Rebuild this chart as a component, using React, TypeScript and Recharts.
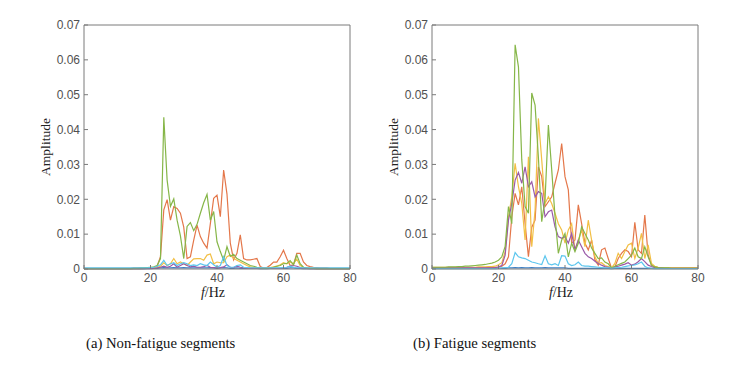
import React from 'react'
import { LineChart, Line, XAxis, YAxis, Label } from 'recharts'

// frequency bins (Hz)
const freq = [
  0, 1, 2, 3, 4, 5, 6, 7, 8, 9,
  10, 11, 12, 13, 14, 15, 16, 17, 18, 19,
  20, 21, 22, 23, 24, 25, 26, 27, 28, 29,
  30, 31, 32, 33, 34, 35, 36, 37, 38, 39,
  40, 41, 42, 43, 44, 45, 46, 47, 48, 49,
  50, 51, 52, 53, 54, 55, 56, 57, 58, 59,
  60, 61, 62, 63, 64, 65, 66, 67, 68, 69,
  70, 71, 72, 73, 74, 75, 76, 77, 78, 79, 80,
]

const xTicks = [0, 20, 40, 60, 80]
const yTicks = [0, 0.01, 0.02, 0.03, 0.04, 0.05, 0.06, 0.07]

// (a) non-fatigue segments
const nfBlue = [
  0.0001, 0.0001, 0.0001, 0.0001, 0.0001, 0.0001, 0.0001, 0.0001, 0.0001, 0.0001,
  0.0001, 0.0001, 0.0001, 0.0001, 0.0001, 0.0001, 0.0001, 0.0001, 0.0001, 0.0002,
  0.0002, 0.0002, 0.0002, 0.0003, 0.0004, 0.0003, 0.0003, 0.0004, 0.0003, 0.0003,
  0.0004, 0.0003, 0.0003, 0.0003, 0.0003, 0.0003, 0.0003, 0.0003, 0.0004, 0.0003,
  0.0002, 0.0003, 0.0004, 0.0003, 0.0002, 0.0002, 0.0003, 0.0002, 0.0002, 0.0002,
  0.0002, 0.0002, 0.0002, 0.0001, 0.0001, 0.0001, 0.0002, 0.0002, 0.0002, 0.0002,
  0.0002, 0.0002, 0.0003, 0.0003, 0.0002, 0.0002, 0.0001, 0.0001, 0.0001, 0.0001,
  0.0001, 0.0001, 0.0001, 0.0001, 0.0001, 0.0001, 0.0001, 0.0001, 0.0001, 0.0001, 0.0001,
]
const nfOrange = [
  0.0002, 0.0002, 0.0002, 0.0002, 0.0002, 0.0002, 0.0002, 0.0002, 0.0002, 0.0002,
  0.0002, 0.0002, 0.0002, 0.0002, 0.0002, 0.0003, 0.0003, 0.0003, 0.0003, 0.0004,
  0.0004, 0.0005, 0.0008, 0.0035, 0.017, 0.0199, 0.014, 0.0179, 0.0174, 0.016,
  0.012, 0.003, 0.0035, 0.0083, 0.0126, 0.0093, 0.0074, 0.006, 0.013, 0.0203,
  0.0212, 0.015, 0.0284, 0.0215, 0.0074, 0.0026, 0.0045, 0.0098, 0.003, 0.0026,
  0.0026, 0.0028, 0.003, 0.0007, 0.0003, 0.0004, 0.0011, 0.002, 0.002, 0.0035,
  0.0054, 0.003, 0.001, 0.0012, 0.0045, 0.0045, 0.002, 0.001, 0.0007, 0.0005,
  0.0004, 0.0003, 0.0003, 0.0003, 0.0002, 0.0002, 0.0002, 0.0002, 0.0002, 0.0002, 0.0002,
]
const nfYellow = [
  0.0001, 0.0001, 0.0001, 0.0001, 0.0001, 0.0001, 0.0001, 0.0001, 0.0001, 0.0001,
  0.0001, 0.0001, 0.0001, 0.0001, 0.0001, 0.0001, 0.0001, 0.0001, 0.0002, 0.0002,
  0.0002, 0.0003, 0.0005, 0.0008, 0.0018, 0.001, 0.0015, 0.003, 0.0015, 0.002,
  0.0015, 0.001, 0.002, 0.0029, 0.003, 0.003, 0.0025, 0.004, 0.0043, 0.0015,
  0.002, 0.0018, 0.0018, 0.0035, 0.004, 0.003, 0.0025, 0.002, 0.0015, 0.001,
  0.0006, 0.0004, 0.0003, 0.0002, 0.0002, 0.0003, 0.0004, 0.0006, 0.0008, 0.0012,
  0.0018, 0.0015, 0.002, 0.0015, 0.0028, 0.001, 0.0005, 0.0003, 0.0002, 0.0002,
  0.0001, 0.0001, 0.0001, 0.0001, 0.0001, 0.0001, 0.0001, 0.0001, 0.0001, 0.0001, 0.0001,
]
const nfPurple = [
  0.0001, 0.0001, 0.0001, 0.0001, 0.0001, 0.0001, 0.0001, 0.0001, 0.0001, 0.0001,
  0.0001, 0.0001, 0.0001, 0.0001, 0.0001, 0.0001, 0.0001, 0.0001, 0.0001, 0.0001,
  0.0001, 0.0002, 0.0003, 0.0005, 0.0008, 0.0005, 0.0008, 0.0015, 0.0005, 0.001,
  0.0015, 0.001, 0.0006, 0.0008, 0.0005, 0.0005, 0.0007, 0.001, 0.0005, 0.0004,
  0.0003, 0.0004, 0.0006, 0.0012, 0.0005, 0.0004, 0.0008, 0.0005, 0.0003, 0.0002,
  0.0002, 0.0002, 0.0002, 0.0002, 0.0002, 0.0002, 0.0002, 0.0002, 0.0002, 0.0002,
  0.0003, 0.0005, 0.0008, 0.001, 0.0008, 0.0004, 0.0002, 0.0002, 0.0001, 0.0001,
  0.0001, 0.0001, 0.0001, 0.0001, 0.0001, 0.0001, 0.0001, 0.0001, 0.0001, 0.0001, 0.0001,
]
const nfGreen = [
  0.0001, 0.0001, 0.0001, 0.0001, 0.0001, 0.0001, 0.0001, 0.0001, 0.0001, 0.0001,
  0.0001, 0.0001, 0.0001, 0.0001, 0.0001, 0.0002, 0.0002, 0.0003, 0.0003, 0.0004,
  0.0005, 0.0006, 0.001, 0.003, 0.0435, 0.0255, 0.018, 0.0201, 0.014, 0.0095,
  0.003, 0.0122, 0.0133, 0.011, 0.0128, 0.016, 0.019, 0.0214, 0.014, 0.0165,
  0.0078, 0.005, 0.0025, 0.0064, 0.0036, 0.0042, 0.003, 0.0025, 0.002, 0.0015,
  0.001, 0.0008, 0.0005, 0.0003, 0.0002, 0.0002, 0.0003, 0.0005, 0.0008, 0.001,
  0.0015, 0.0016, 0.0024, 0.0012, 0.004, 0.0015, 0.0005, 0.0003, 0.0002, 0.0002,
  0.0001, 0.0001, 0.0001, 0.0001, 0.0001, 0.0001, 0.0001, 0.0001, 0.0001, 0.0001, 0.0001,
]
const nfCyan = [
  0.0003, 0.0003, 0.0003, 0.0003, 0.0003, 0.0003, 0.0003, 0.0003, 0.0003, 0.0003,
  0.0003, 0.0003, 0.0003, 0.0003, 0.0003, 0.0003, 0.0003, 0.0003, 0.0003, 0.0003,
  0.0004, 0.0005, 0.0008, 0.0012, 0.0025, 0.001, 0.0015, 0.0018, 0.001, 0.0015,
  0.0018, 0.0015, 0.001, 0.0012, 0.001, 0.0015, 0.0012, 0.001, 0.002, 0.0012,
  0.0005, 0.001, 0.0035, 0.001, 0.0005, 0.0005, 0.001, 0.0012, 0.0005, 0.0004,
  0.0003, 0.0003, 0.0003, 0.0003, 0.0003, 0.0003, 0.0003, 0.0003, 0.0003, 0.0003,
  0.0004, 0.0005, 0.0008, 0.0005, 0.0003, 0.0003, 0.0003, 0.0003, 0.0003, 0.0003,
  0.0003, 0.0003, 0.0003, 0.0003, 0.0003, 0.0003, 0.0003, 0.0003, 0.0003, 0.0003, 0.0003,
]

// (b) fatigue segments
const fBlue = [
  0.0002, 0.0002, 0.0002, 0.0002, 0.0002, 0.0002, 0.0002, 0.0002, 0.0002, 0.0002,
  0.0002, 0.0002, 0.0002, 0.0002, 0.0002, 0.0002, 0.0002, 0.0002, 0.0002, 0.0002,
  0.0002, 0.0002, 0.0002, 0.0003, 0.0003, 0.0004, 0.0003, 0.0004, 0.0003, 0.0003,
  0.0004, 0.0003, 0.0003, 0.0003, 0.0004, 0.0003, 0.0003, 0.0003, 0.0003, 0.0003,
  0.0003, 0.0002, 0.0002, 0.0002, 0.0002, 0.0002, 0.0002, 0.0002, 0.0002, 0.0002,
  0.0002, 0.0002, 0.0002, 0.0002, 0.0001, 0.0002, 0.0002, 0.0002, 0.0002, 0.0002,
  0.0002, 0.0002, 0.0002, 0.0002, 0.0002, 0.0002, 0.0002, 0.0002, 0.0002, 0.0002,
  0.0002, 0.0002, 0.0002, 0.0002, 0.0002, 0.0002, 0.0002, 0.0002, 0.0002, 0.0002, 0.0002,
]
const fOrange = [
  0.0003, 0.0003, 0.0003, 0.0003, 0.0003, 0.0003, 0.0003, 0.0003, 0.0003, 0.0003,
  0.0003, 0.0003, 0.0003, 0.0003, 0.0003, 0.0003, 0.0003, 0.0004, 0.0004, 0.0004,
  0.0005, 0.0008, 0.0015, 0.0035, 0.015, 0.0217, 0.0184, 0.0236, 0.013, 0.0035,
  0.012, 0.014, 0.0293, 0.0265, 0.0179, 0.0193, 0.0207, 0.0246, 0.0284, 0.036,
  0.0265, 0.0227, 0.0074, 0.0083, 0.0184, 0.013, 0.0074, 0.0055, 0.0083, 0.0026,
  0.0011, 0.0055, 0.006, 0.003, 0.0002, 0.0006, 0.003, 0.0045, 0.0055, 0.005,
  0.0035, 0.0134, 0.0055, 0.0045, 0.0155, 0.004, 0.0011, 0.0006, 0.0004, 0.0003,
  0.0003, 0.0003, 0.0003, 0.0003, 0.0003, 0.0003, 0.0003, 0.0003, 0.0003, 0.0003, 0.0003,
]
const fYellow = [
  0.0005, 0.0005, 0.0005, 0.0005, 0.0005, 0.0005, 0.0005, 0.0005, 0.0005, 0.0005,
  0.0005, 0.0005, 0.0005, 0.0005, 0.0006, 0.0006, 0.0006, 0.0007, 0.0007, 0.0008,
  0.0012, 0.0018, 0.005, 0.015, 0.0207, 0.0303, 0.0236, 0.0188, 0.0083, 0.0322,
  0.0064, 0.0169, 0.0432, 0.0313, 0.0188, 0.0207, 0.0188, 0.016, 0.013, 0.0112,
  0.0074, 0.0112, 0.013, 0.0055, 0.0083, 0.0112, 0.0064, 0.014, 0.0083, 0.0035,
  0.0016, 0.0018, 0.001, 0.0007, 0.0003, 0.0016, 0.0045, 0.003, 0.005, 0.0069,
  0.0074, 0.003, 0.006, 0.0102, 0.003, 0.0069, 0.0016, 0.0008, 0.0005, 0.0004,
  0.0004, 0.0004, 0.0004, 0.0004, 0.0004, 0.0004, 0.0004, 0.0004, 0.0004, 0.0004, 0.0004,
]
const fPurple = [
  0.0003, 0.0003, 0.0003, 0.0003, 0.0003, 0.0003, 0.0003, 0.0003, 0.0003, 0.0003,
  0.0003, 0.0003, 0.0003, 0.0003, 0.0003, 0.0003, 0.0003, 0.0003, 0.0003, 0.0004,
  0.0006, 0.001, 0.004, 0.014, 0.0188, 0.0255, 0.0277, 0.0246, 0.0293, 0.0236,
  0.025, 0.0207, 0.0222, 0.0217, 0.015, 0.0164, 0.0169, 0.0121, 0.0093, 0.0088,
  0.0093, 0.0074, 0.0102, 0.0055, 0.0083, 0.0064, 0.0045, 0.0035, 0.003, 0.0022,
  0.0016, 0.0011, 0.0007, 0.0005, 0.0002, 0.0006, 0.0008, 0.0011, 0.0014, 0.0018,
  0.0011, 0.0014, 0.0021, 0.003, 0.0021, 0.0011, 0.0007, 0.0004, 0.0003, 0.0003,
  0.0002, 0.0002, 0.0002, 0.0002, 0.0002, 0.0002, 0.0002, 0.0002, 0.0002, 0.0002, 0.0002,
]
const fGreen = [
  0.0005, 0.0005, 0.0005, 0.0005, 0.0005, 0.0006, 0.0006, 0.0006, 0.0007, 0.0007,
  0.0008, 0.0008, 0.0009, 0.001, 0.0011, 0.0012, 0.0013, 0.0015, 0.0017, 0.002,
  0.0025, 0.0035, 0.0065, 0.0179, 0.013, 0.0643, 0.058, 0.0313, 0.0179, 0.016,
  0.0505, 0.047, 0.032, 0.0136, 0.02, 0.0413, 0.0285, 0.015, 0.0045, 0.0083,
  0.0102, 0.0035, 0.0074, 0.005, 0.0074, 0.0121, 0.0102, 0.0083, 0.006, 0.0045,
  0.003, 0.0032, 0.002, 0.0015, 0.0003, 0.0008, 0.0012, 0.0016, 0.002, 0.003,
  0.004, 0.006, 0.0035, 0.003, 0.0064, 0.0035, 0.0011, 0.0006, 0.0004, 0.0003,
  0.0003, 0.0003, 0.0002, 0.0002, 0.0002, 0.0002, 0.0002, 0.0002, 0.0002, 0.0002, 0.0002,
]
const fCyan = [
  0.0001, 0.0001, 0.0001, 0.0001, 0.0001, 0.0001, 0.0001, 0.0001, 0.0001, 0.0001,
  0.0001, 0.0001, 0.0001, 0.0001, 0.0001, 0.0001, 0.0001, 0.0001, 0.0001, 0.0001,
  0.0002, 0.0003, 0.0004, 0.0005, 0.0015, 0.0047, 0.0035, 0.0032, 0.003, 0.0025,
  0.002, 0.0018, 0.0015, 0.0013, 0.0038, 0.0015, 0.0012, 0.0015, 0.001, 0.0038,
  0.0037, 0.0015, 0.001, 0.0012, 0.002, 0.001, 0.0008, 0.0008, 0.0007, 0.0006,
  0.0005, 0.0004, 0.0003, 0.0003, 0.0002, 0.0003, 0.0004, 0.0005, 0.0007, 0.0009,
  0.001, 0.0012, 0.0015, 0.002, 0.0008, 0.0003, 0.0002, 0.0001, 0.0001, 0.0001,
  0.0001, 0.0001, 0.0001, 0.0001, 0.0001, 0.0001, 0.0001, 0.0001, 0.0001, 0.0001, 0.0001,
]

const series = [
  { key: 'blue', color: '#3d7fc4' },
  { key: 'orange', color: '#e4774a' },
  { key: 'yellow', color: '#f2bf45' },
  { key: 'purple', color: '#9a5aa8' },
  { key: 'green', color: '#86b648' },
  { key: 'cyan', color: '#5cc6ee' },
]

const buildRows = (vals: Record<string, number[]>) =>
  freq.map((f, i) => {
    const row: Record<string, number> = { f }
    for (const s of series) row[s.key] = vals[s.key][i]
    return row
  })

const nonFatigueData = buildRows({
  blue: nfBlue, orange: nfOrange, yellow: nfYellow, purple: nfPurple, green: nfGreen, cyan: nfCyan,
})
const fatigueData = buildRows({
  blue: fBlue, orange: fOrange, yellow: fYellow, purple: fPurple, green: fGreen, cyan: fCyan,
})

const axisColor = '#7a7a7a'
const tickFont = { fontSize: 12, fill: '#505050', fontFamily: '"Liberation Sans", Arial, sans-serif' }
const serif = '"Liberation Serif", "Times New Roman", serif'

const renderYLabel = (props: any) => {
  const vb = props.viewBox
  const cx = vb.x + vb.width - 39
  const cy = vb.y + vb.height / 2
  return (
    <text x={cx} y={cy} transform={`rotate(-90 ${cx} ${cy})`} textAnchor="middle"
      dominantBaseline="central" fontFamily={serif} fontSize={13.5} fill="#222">
      Amplitude
    </text>
  )
}

const renderXLabel = (props: any) => {
  const vb = props.viewBox
  return (
    <text x={vb.x + vb.width / 2 - 4} y={vb.y + 28} textAnchor="middle"
      fontFamily={serif} fontSize={14} fill="#222">
      <tspan fontStyle="italic">f</tspan>/Hz
    </text>
  )
}

function Panel({ data, left }: { data: Record<string, number>[]; left: number }) {
  return (
    <div style={{ position: 'absolute', left, top: 0 }}>
      <LineChart width={365} height={310} data={data}
        margin={{ top: 24, right: 14, left: 0, bottom: 11 }}>
        <XAxis xAxisId="b" dataKey="f" type="number" domain={[0, 80]} ticks={xTicks}
          stroke={axisColor} tickSize={-4} tickMargin={8} tick={tickFont} height={30}>
          <Label content={renderXLabel} />
        </XAxis>
        <XAxis xAxisId="t" orientation="top" dataKey="f" type="number" domain={[0, 80]}
          ticks={xTicks} stroke={axisColor} tickSize={-4} tick={false} height={1} />
        <YAxis yAxisId="l" type="number" domain={[0, 0.07]} ticks={yTicks}
          stroke={axisColor} tickSize={-4} tickMargin={8} tick={tickFont} width={84}
          tickFormatter={(v: number) => (v === 0 ? '0' : v.toFixed(2))}>
          <Label content={renderYLabel} />
        </YAxis>
        <YAxis yAxisId="r" orientation="right" type="number" domain={[0, 0.07]} ticks={yTicks}
          stroke={axisColor} tickSize={-4} tick={false} width={1} />
        {series.map((s) => (
          <Line key={s.key} xAxisId="b" yAxisId="l" type="linear" dataKey={s.key}
            stroke={s.color} strokeWidth={1.2} dot={false} isAnimationActive={false} />
        ))}
      </LineChart>
    </div>
  )
}

const captionStyle: React.CSSProperties = {
  position: 'absolute', top: 334, fontFamily: serif, fontSize: 14.7,
  lineHeight: '18px', color: '#111', whiteSpace: 'nowrap',
}

export default function App() {
  return (
    <div style={{ position: 'fixed', left: 0, top: 0, width: 738, height: 380, background: '#fff' }}>
      <Panel data={nonFatigueData} left={0} />
      <Panel data={fatigueData} left={348} />
      <div style={{ ...captionStyle, left: 86 }}>(a) Non-fatigue segments</div>
      <div style={{ ...captionStyle, left: 413 }}>(b) Fatigue segments</div>
    </div>
  )
}
